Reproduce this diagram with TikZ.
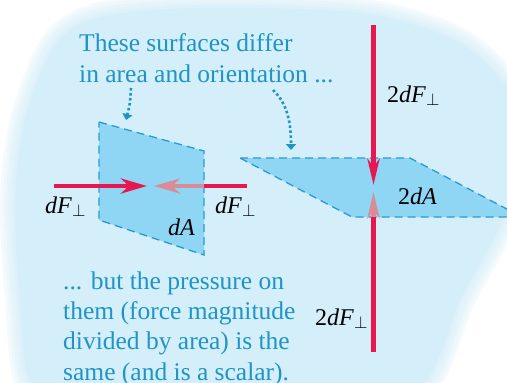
\documentclass[tikz,border=0pt]{standalone}
\usepackage{fontspec}
\setmainfont{Liberation Serif}
\usetikzlibrary{arrows.meta}
\definecolor{bgblue}{HTML}{D4EEFA}
\definecolor{surfblue}{HTML}{8ED6F4}
\definecolor{edgeblue}{HTML}{2A9BD0}
\definecolor{txtblue}{HTML}{1E95C6}
\definecolor{forcered}{HTML}{E8174F}
\definecolor{ghostpink}{HTML}{D98C96}
\begin{document}
\begin{tikzpicture}[x=1pt,y=-1pt,
 caption/.style={text=txtblue,align=left,inner sep=0pt,font=\fontsize{25.5}{30.3}\selectfont},
 lbl/.style={inner sep=0pt,font=\fontsize{24}{24}\selectfont},
 surf/.style={fill=surfblue,draw=edgeblue,line width=1.3pt,dash pattern=on 8pt off 5pt},
 force/.style={draw=forcered,line width=4.5pt},
 ghost/.style={draw=ghostpink,line width=4.5pt},
 hhead/.style={-{Stealth[length=26pt,width=15pt,inset=8pt]}},
 vhead/.style={-{Stealth[length=26pt,width=12pt,inset=8pt]}},
 hint/.style={draw=txtblue,line width=2.6pt,dash pattern=on 2.6pt off 2.4pt,
   -{Triangle[length=6pt,width=10pt]}}]
\clip (0,0) rectangle (507,383);
\fill[white] (0,0) rectangle (507,383);
% blurred backdrop
\foreach \w in {30,24,18,12,6}
  \draw[bgblue,line width=\w pt,opacity=0.22] plot[smooth cycle] coordinates {(33,390) (20,300) (15,200) (25,120) (55,45) (100,17) (200,8) (360,13) (460,43) (515,100) (520,160) (500,225) (460,300) (418,390) (300,430) (100,430)};
\fill[bgblue] plot[smooth cycle] coordinates {(33,390) (20,300) (15,200) (25,120) (55,45) (100,17) (200,8) (360,13) (460,43) (515,100) (520,160) (500,225) (460,300) (418,390) (300,430) (100,430)};
% surfaces
\draw[surf] (99,122) -- (204,151) -- (204,255) -- (99,220) -- cycle;
\draw[surf] (240,158) -- (410,158) -- (522,217) -- (352,217) -- cycle;
% force ends
\coordinate (hL) at (54,186); \coordinate (hLtip) at (147,186);
\coordinate (hR) at (247,186); \coordinate (hRin) at (204,186); \coordinate (hRtip) at (154,186);
\coordinate (vT) at (373.5,25); \coordinate (vTtip) at (373.5,185);
\coordinate (vB) at (373.5,352); \coordinate (vBin) at (373.5,217); \coordinate (vBtip) at (373.5,192);
\draw[ghost,hhead] (hRin) -- (hRtip);
\draw[force] (hR) -- (hRin);
\draw[force,hhead] (hL) -- (hLtip);
\draw[ghost,vhead] (vBin) -- (vBtip);
\draw[force] (vB) -- (vBin);
\draw[force,vhead] (vT) -- (vTtip);
% labels
\node[lbl,anchor=base west] (fl) at (45,213) {\textit{dF}$_\perp$};
\node[lbl,anchor=base west] (fr) at (215,213) {\textit{dF}$_\perp$};
\node[lbl,anchor=base west] (al) at (168,235) {\textit{dA}};
\node[lbl,anchor=base west] (ft) at (387,102) {2\textit{dF}$_\perp$};
\node[lbl,anchor=base west] (ar) at (398,204) {2\textit{dA}};
\node[lbl,anchor=base west] (fb) at (315,325) {2\textit{dF}$_\perp$};
% captions (base = last line)
\node[caption,anchor=base west] (top) at (79,82) {These surfaces differ\\in area and orientation ...};
\node[caption,anchor=base west] (bot) at (63,380) {... but the pressure on\\them (force magnitude\\divided by area) is the\\same (and is a scalar).};
\coordinate (pL0) at (131,88); \coordinate (pL1) at (126,120);
\coordinate (pR0) at (273,90); \coordinate (pR1) at (291,150);
\draw[hint] (pL0) .. controls (130,104) .. (pL1);
\draw[hint] (pR0) .. controls (288,104) and (291,124) .. (pR1);
\end{tikzpicture}
\end{document}
